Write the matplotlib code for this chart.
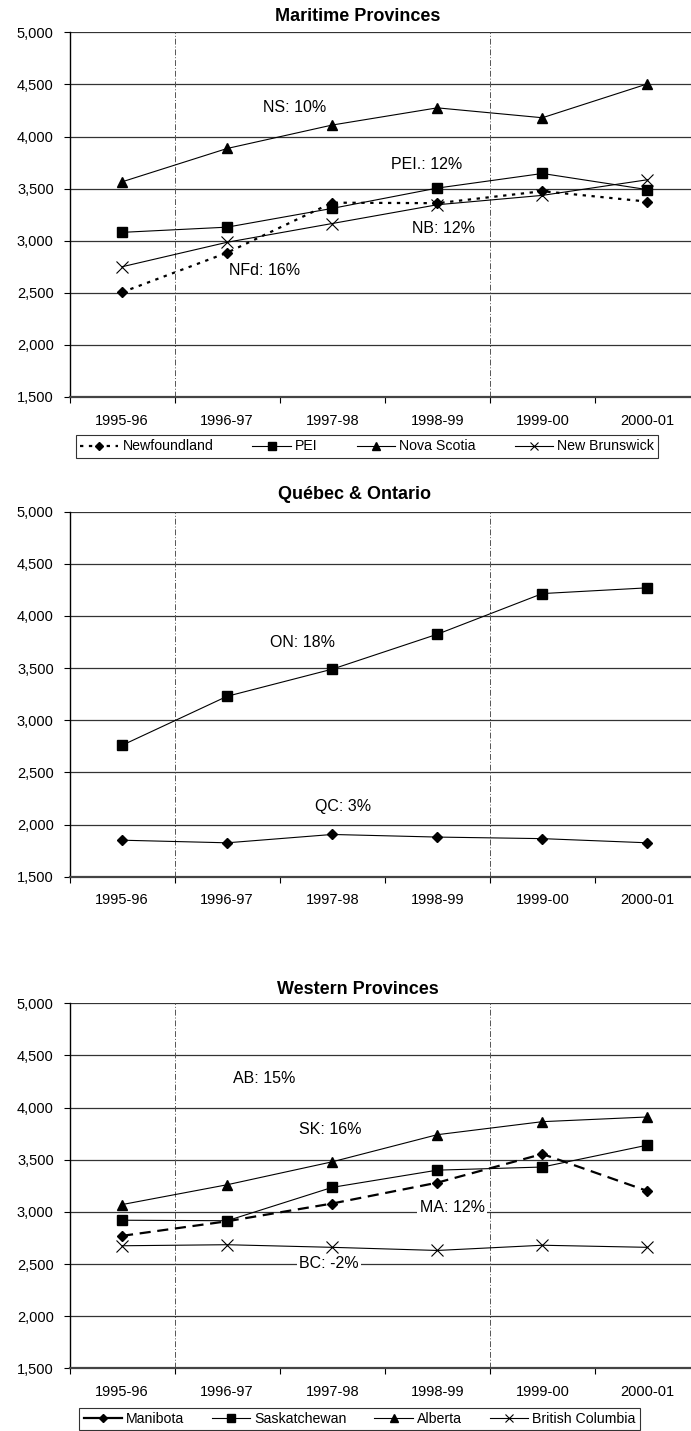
import matplotlib.pyplot as plt
import matplotlib.ticker as mticker
import numpy as np

plt.rcParams['font.family'] = ['Liberation Sans', 'DejaVu Sans']

years = ['1995-96', '1996-97', '1997-98', '1998-99', '1999-00', '2000-01']

# Maritime provinces
newfoundland = [2505, 2885, 3365, 3360, 3475, 3375]
pei = [3080, 3130, 3310, 3505, 3645, 3490]
nova_scotia = [3565, 3885, 4110, 4275, 4180, 4505]
new_brunswick = [2750, 2985, 3165, 3345, 3435, 3585]

# Quebec & Ontario
quebec = [1850, 1825, 1905, 1880, 1865, 1825]
ontario = [2760, 3230, 3490, 3825, 4215, 4270]

# Western provinces
manitoba = [2770, 2910, 3080, 3280, 3555, 3200]
saskatchewan = [2920, 2915, 3235, 3400, 3430, 3640]
alberta = [3070, 3260, 3480, 3740, 3865, 3910]
british_columbia = [2675, 2685, 2660, 2630, 2680, 2660]

W, H = 691, 1431
fig = plt.figure(figsize=(W / 100, H / 100), dpi=100)


def make_axes(top_px, bottom_px):
    left = 69.5 / W
    width = (700 - 69.5) / W
    ax = fig.add_axes([left, 1 - bottom_px / H, width, (bottom_px - top_px) / H])
    x = np.arange(len(years))
    ax.set_xlim(-0.5, len(years) - 0.5)
    ax.set_ylim(1500, 5000)
    ax.set_xticks(x)
    ax.set_xticklabels(years, fontsize=10.5)
    ax.xaxis.set_minor_locator(mticker.FixedLocator(np.arange(-0.5, len(years), 1.0)))
    ax.tick_params(axis='x', which='major', length=0, pad=12)
    ax.tick_params(axis='x', which='minor', length=4.3, width=0.8, direction='out')
    ax.set_yticks(np.arange(1500, 5001, 500))
    ax.yaxis.set_major_formatter(mticker.FuncFormatter(lambda v, p: f'{int(v):,}'))
    ax.tick_params(axis='y', length=4.3, width=0.8, direction='out', labelsize=10.5, pad=7)
    for s in ['top', 'right']:
        ax.spines[s].set_visible(False)
    ax.spines['left'].set_linewidth(1.0)
    ax.spines['bottom'].set_linewidth(1.6)
    ax.spines['bottom'].set_color('#444444')
    for v in np.arange(2000, 5001, 500):
        ax.axhline(v, color='#333333', lw=0.9, zorder=0)
    # fiscal period dividers
    for xv in [0.5, 3.5]:
        ax.axvline(xv, color='#555555', lw=0.7, ls=(0, (6, 2, 1, 2)), zorder=0)
    return ax, x


def title(text, x_px, y_px):
    fig.text(x_px / W, 1 - y_px / H, text, ha='center', va='center',
             fontsize=13, fontweight='bold')


def note(ax, text, xi, yv, box=False):
    t = ax.text(xi, yv, text, ha='center', va='center', fontsize=11.5, zorder=5)
    if box:
        t.set_bbox(dict(facecolor='white', edgecolor='none', pad=1.5))


def legend(ax, cx_px, cy_px, colsp):
    leg = fig.legend(*ax.get_legend_handles_labels(), loc='center',
                     bbox_to_anchor=(cx_px / W, 1 - cy_px / H), ncol=4, fontsize=10.2,
                     frameon=True, fancybox=False, edgecolor='black', handlelength=2.7,
                     columnspacing=colsp, handletextpad=0.3, borderpad=0.3,
                     markerscale=0.8)
    leg.get_frame().set_linewidth(0.8)
    return leg


lw = 0.8

# Maritime Provinces
ax1, x = make_axes(32.3, 397)
title('Maritime Provinces', 358, 16.5)
ax1.plot(x, newfoundland, color='black', lw=1.6, ls=(0, (1.5, 2.5)), marker='D', ms=5.5,
         label='Newfoundland', zorder=3)
ax1.plot(x, pei, color='black', lw=lw, marker='s', ms=7, label='PEI', zorder=3)
ax1.plot(x, nova_scotia, color='black', lw=lw, marker='^', ms=7.5, label='Nova Scotia', zorder=3)
ax1.plot(x, new_brunswick, color='black', lw=lw, marker='x', ms=8, mew=0.8,
         label='New Brunswick', zorder=3)
note(ax1, 'NS: 10%', 1.64, 4275)
note(ax1, 'PEI.: 12%', 2.90, 3730)
note(ax1, 'NB: 12%', 3.06, 3120)
note(ax1, 'NFd: 16%', 1.36, 2710)
legend(ax1, 367, 446.5, 2.75)

# Quebec & Ontario
ax2, x = make_axes(511.7, 876.7)
title('Québec & Ontario', 354, 495)
ax2.plot(x, ontario, color='black', lw=lw, marker='s', ms=7, zorder=3)
ax2.plot(x, quebec, color='black', lw=lw, marker='D', ms=5.5, zorder=3)
note(ax2, 'ON: 18%', 1.72, 3750)
note(ax2, 'QC: 3%', 2.10, 2170)

# Western Provinces
ax3, x = make_axes(1003.3, 1368.3)
title('Western Provinces', 357.5, 989.5)
ax3.plot(x, manitoba, color='black', lw=1.6, ls=(0, (5, 3)), marker='D', ms=5.5,
         label='Manibota', zorder=3)
ax3.plot(x, saskatchewan, color='black', lw=lw, marker='s', ms=7, label='Saskatchewan', zorder=3)
ax3.plot(x, alberta, color='black', lw=lw, marker='^', ms=7.5, label='Alberta', zorder=3)
ax3.plot(x, british_columbia, color='black', lw=lw, marker='x', ms=8, mew=0.8,
         label='British Columbia', zorder=3)
note(ax3, 'AB: 15%', 1.35, 4275)
note(ax3, 'SK: 16%', 1.98, 3790)
note(ax3, 'MA: 12%', 3.14, 3045, box=True)
note(ax3, 'BC: -2%', 1.97, 2508, box=True)
leg3 = legend(ax3, 359.5, 1419, 1.95)
# the legend sample for Manitoba is drawn solid
leg3.get_lines()[0].set_linestyle('-')

fig.savefig('out.png', dpi=100)
